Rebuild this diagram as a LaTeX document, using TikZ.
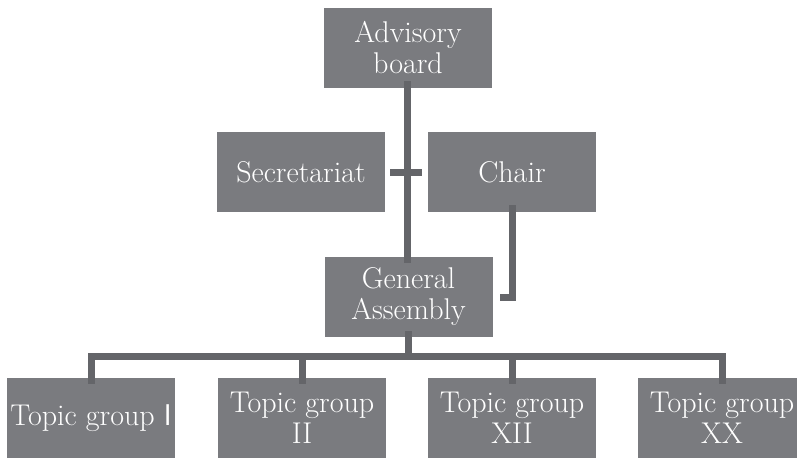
\documentclass[tikz,border=0pt]{standalone}
\usepackage{fontspec}
\definecolor{boxgray}{RGB}{122,123,127}
\definecolor{linkgray}{RGB}{100,101,105}
\tikzset{
  unit/.style={rectangle, fill=boxgray, text=white, inner sep=0pt,
    minimum width=168pt, minimum height=80pt, align=center,
    font=\fontsize{30}{31}\selectfont},
  link/.style={draw=linkgray, line width=7pt, line join=miter}
}
\begin{document}
\begin{tikzpicture}[x=1pt, y=-1pt]
  \useasboundingbox (0,0) rectangle (797,458);
  % boxes of the organisation
  \node[unit] (adv)   at (408,48)  {Advisory\\board};
  \node[unit] (sec)   at (301,172) {Secretariat};
  \node[unit] (chair) at (512,172) {Chair};
  \node[unit] (ga)    at (408.5,297) {General\\Assembly};
  \node[unit] (t1)    at (91,418)  {Topic group {\sffamily I}};
  \node[unit] (t2)    at (302,418) {Topic group\\II};
  \node[unit] (t3)    at (512,418) {Topic group\\XII};
  \node[unit] (t4)    at (722,418) {Topic group\\XX};
  % junction of the bus above the topic groups
  \coordinate (bus) at (408,356);
  % links between the boxes
  \path[link] ([yshift=7pt]adv.south -| 407,0) -- ([yshift=-6pt]ga.north -| 407,0);
  \path[link] ([xshift=5pt]sec.east) -- ([xshift=-6pt]chair.west);
  \path[link] ([yshift=7pt]chair.south) |- ([xshift=7pt]ga.east);
  \path[link] ([yshift=6pt]ga.south -| bus) -- (bus);
  \path[link] ([yshift=-6pt]t1.north) |- (bus) -| ([yshift=-6pt]t4.north);
  \path[link] ([yshift=-6pt]t2.north) -- (t2.north |- bus);
  \path[link] ([yshift=-6pt]t3.north) -- (t3.north |- bus);
\end{tikzpicture}
\end{document}
